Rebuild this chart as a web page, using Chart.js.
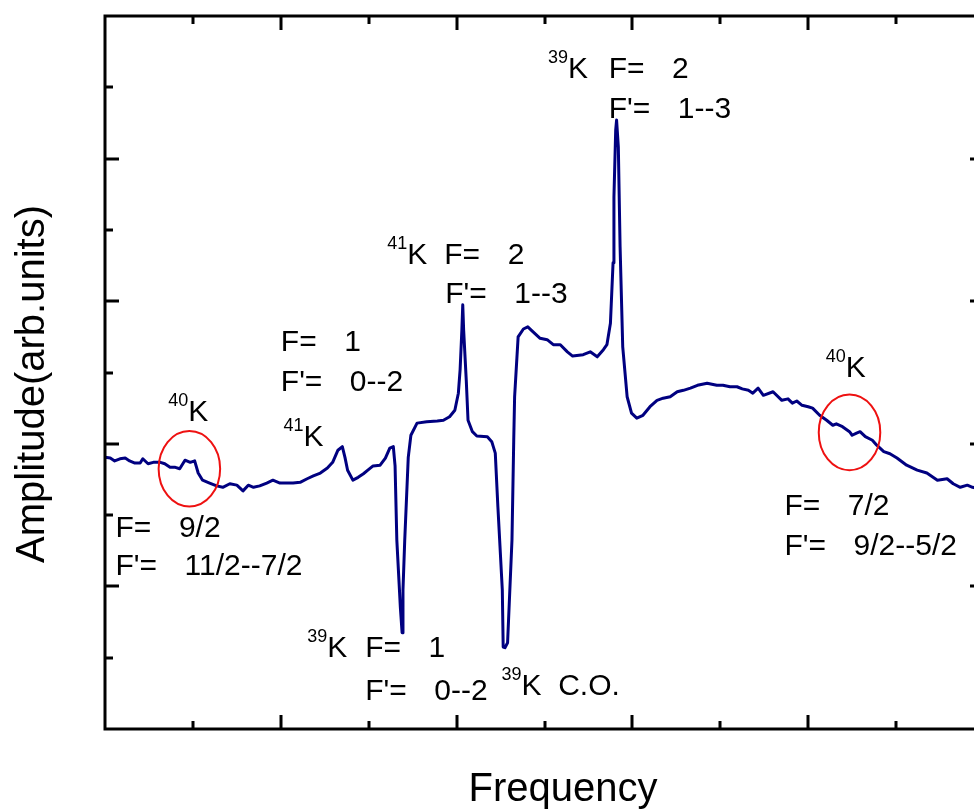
<!DOCTYPE html>
<html>
<head>
<meta charset="utf-8">
<title>Potassium saturated absorption spectrum</title>
<script src="https://cdn.jsdelivr.net/npm/chart.js@4.4.1/dist/chart.umd.min.js"></script>
<style>
  html, body { margin: 0; padding: 0; background: #ffffff; overflow: hidden; }
  #wrap { width: 1000px; height: 811px; }
  canvas { display: block; }
</style>
</head>
<body>
<div id="wrap"><canvas id="spectrum" width="1000" height="811"></canvas></div>
<script>
// Scan frequency (arbitrary units, one tick per unit)
const freq = [
  0.00, 0.06, 0.11, 0.17, 0.23, 0.28, 0.34, 0.40, 0.43, 0.49, 0.55, 0.63, 0.68, 0.74, 0.80, 0.85, 0.91, 0.97, 1.02, 1.06,
  1.11, 1.19, 1.27, 1.34, 1.42, 1.50, 1.57, 1.63, 1.69, 1.76, 1.84, 1.91, 1.99, 2.07, 2.14, 2.22, 2.30, 2.37, 2.45, 2.53,
  2.59, 2.65, 2.70, 2.73, 2.76, 2.82, 2.88, 2.94, 2.99, 3.05, 3.13, 3.19, 3.24, 3.28, 3.30, 3.32, 3.36, 3.38, 3.39, 3.41,
  3.45, 3.48, 3.55, 3.66, 3.78, 3.85, 3.92, 3.98, 4.02, 4.04, 4.06, 4.07, 4.08, 4.11, 4.13, 4.18, 4.23, 4.35, 4.40, 4.44,
  4.47, 4.52, 4.53, 4.55, 4.58, 4.63, 4.65, 4.66, 4.70, 4.76, 4.81, 4.87, 4.95, 5.03, 5.10, 5.18, 5.26, 5.32, 5.44, 5.52,
  5.60, 5.67, 5.71, 5.75, 5.78, 5.79, 5.81, 5.82, 5.84, 5.86, 5.89, 5.94, 5.99, 6.05, 6.12, 6.20, 6.28, 6.35, 6.43, 6.51,
  6.58, 6.66, 6.74, 6.85, 6.96, 7.03, 7.11, 7.19, 7.25, 7.32, 7.37, 7.43, 7.49, 7.60, 7.70, 7.77, 7.82, 7.87, 7.93, 8.00,
  8.05, 8.13, 8.21, 8.28, 8.32, 8.39, 8.47, 8.50, 8.55, 8.59, 8.65, 8.73, 8.78, 8.86, 8.93, 9.01, 9.12, 9.24, 9.35, 9.47,
  9.58, 9.65, 9.73, 9.81, 9.87, 10.00
];

// Probe amplitude (arbitrary units)
const amplitude = [
  3.81, 3.80, 3.76, 3.79, 3.80, 3.76, 3.73, 3.73, 3.79, 3.72, 3.74, 3.74, 3.72, 3.67, 3.67, 3.65, 3.77, 3.74, 3.76, 3.59,
  3.49, 3.45, 3.41, 3.39, 3.44, 3.42, 3.34, 3.42, 3.39, 3.41, 3.45, 3.49, 3.45, 3.45, 3.45, 3.46, 3.51, 3.55, 3.59, 3.66,
  3.74, 3.91, 3.96, 3.81, 3.63, 3.49, 3.53, 3.58, 3.63, 3.69, 3.70, 3.80, 3.94, 3.96, 3.69, 2.65, 1.71, 1.35, 1.95, 2.65,
  3.81, 4.12, 4.29, 4.31, 4.32, 4.33, 4.38, 4.47, 4.71, 5.04, 5.60, 5.95, 5.60, 4.89, 4.33, 4.17, 4.11, 4.10, 4.03, 3.87,
  3.11, 1.95, 1.15, 1.14, 1.21, 2.65, 4.05, 4.66, 5.50, 5.61, 5.64, 5.57, 5.48, 5.46, 5.39, 5.39, 5.29, 5.23, 5.25, 5.29,
  5.22, 5.32, 5.39, 5.69, 6.54, 7.46, 8.40, 8.54, 8.16, 6.76, 5.36, 4.66, 4.43, 4.36, 4.40, 4.52, 4.61, 4.64, 4.66, 4.73,
  4.75, 4.78, 4.82, 4.85, 4.82, 4.82, 4.80, 4.80, 4.77, 4.75, 4.71, 4.78, 4.68, 4.73, 4.61, 4.63, 4.57, 4.60, 4.54, 4.52,
  4.50, 4.40, 4.33, 4.26, 4.28, 4.24, 4.17, 4.12, 4.15, 4.17, 4.10, 4.05, 3.98, 3.89, 3.86, 3.80, 3.70, 3.63, 3.59, 3.49,
  3.51, 3.44, 3.39, 3.42, 3.39, 3.35
];

// Tick positions on both axes (even = long tick, odd = short tick)
const xTicks = [1, 2, 3, 4, 5, 6, 7, 8, 9];
const yTicks = [1, 2, 3, 4, 5, 6, 7, 8, 9];

// Isotope markers: mass number, position (start of superscript, K baseline)
const isotopeMass = ['40', '41', '41', '39', '39', '39', '40'];
const isotopeX    = [0.72, 2.03, 3.21, 5.04, 2.30, 4.51, 8.20];
const isotopeY    = [4.32, 3.97, 6.52, 9.13, 1.01, 0.48, 4.94];
const isotopeTail = ['', '', '', '', '', '  C.O.', ''];

// Hyperfine quantum-number lines
const qnLabel = ['F=', "F'=", 'F=', "F'=", 'F=', "F'=", 'F=', "F'=", 'F=', "F'=", 'F=', "F'="];
const qnValue = ['1', '0--2', '2', '1--3', '2', '1--3', '1', '0--2', '9/2', '11/2--7/2', '7/2', '9/2--5/2'];
const qnX     = [2.00, 2.00, 3.86, 3.87, 5.73, 5.73, 2.96, 2.96, 0.12, 0.12, 7.73, 7.73];
const qnY     = [5.30, 4.74, 6.52, 5.97, 9.13, 8.57, 1.01, 0.41, 2.69, 2.16, 3.00, 2.44];

// Circled 40K features: centre and half-axes in data units
const ringX  = [0.96, 8.47];
const ringY  = [3.65, 4.16];
const ringRX = [0.35, 0.35];
const ringRY = [0.53, 0.53];

const FONT = '"Liberation Sans", Arial, Helvetica, sans-serif';

const decorations = {
  id: 'decorations',
  afterDraw(chart) {
    const ctx = chart.ctx;
    const xs = chart.scales.x, ys = chart.scales.y;
    const a = chart.chartArea;
    ctx.save();

    // frame
    ctx.strokeStyle = '#000000';
    ctx.lineWidth = 3;
    ctx.lineCap = 'square';
    ctx.strokeRect(a.left, a.top, a.right - a.left, a.bottom - a.top);

    // inward ticks
    ctx.lineWidth = 3;
    ctx.lineCap = 'butt';
    xTicks.forEach(v => {
      const len = v % 2 === 0 ? 14 : 8;
      const px = Math.round(xs.getPixelForValue(v));
      ctx.beginPath();
      ctx.moveTo(px, a.bottom); ctx.lineTo(px, a.bottom - len);
      ctx.moveTo(px, a.top); ctx.lineTo(px, a.top + len);
      ctx.stroke();
    });
    yTicks.forEach(v => {
      const len = v % 2 === 0 ? 14 : 8;
      const py = Math.round(ys.getPixelForValue(v));
      ctx.beginPath();
      ctx.moveTo(a.left, py); ctx.lineTo(a.left + len, py);
      ctx.moveTo(a.right, py); ctx.lineTo(a.right - len, py);
      ctx.stroke();
    });

    // red rings
    ctx.strokeStyle = '#ee1111';
    ctx.lineWidth = 2;
    ringX.forEach((cx, i) => {
      const px = xs.getPixelForValue(cx), py = ys.getPixelForValue(ringY[i]);
      const rx = Math.abs(xs.getPixelForValue(cx + ringRX[i]) - px);
      const ry = Math.abs(ys.getPixelForValue(ringY[i] + ringRY[i]) - py);
      ctx.beginPath();
      ctx.ellipse(px, py, rx, ry, 0, 0, Math.PI * 2);
      ctx.stroke();
    });

    // isotope labels
    ctx.fillStyle = '#000000';
    ctx.textBaseline = 'alphabetic';
    ctx.textAlign = 'left';
    isotopeMass.forEach((m, i) => {
      const px = xs.getPixelForValue(isotopeX[i]);
      const py = ys.getPixelForValue(isotopeY[i]);
      ctx.font = '18px ' + FONT;
      ctx.fillText(m, px, py - 15);
      const w = ctx.measureText(m).width;
      ctx.font = '30px ' + FONT;
      ctx.fillText('K' + isotopeTail[i], px + w, py);
    });

    // quantum-number labels
    ctx.font = '30px ' + FONT;
    qnLabel.forEach((lab, i) => {
      const px = xs.getPixelForValue(qnX[i]);
      const py = ys.getPixelForValue(qnY[i]);
      ctx.fillText(lab, px, py);
      const w = ctx.measureText(lab).width;
      ctx.fillText(qnValue[i], px + w + 27.5, py);
    });

    // axis titles
    ctx.font = '40px ' + FONT;
    ctx.textAlign = 'center';
    ctx.fillText('Frequency', 563, 801);
    ctx.save();
    ctx.translate(44, 384);
    ctx.rotate(-Math.PI / 2);
    ctx.fillText('Amplitude(arb.units)', 0, 0);
    ctx.restore();

    ctx.restore();
  }
};

new Chart(document.getElementById('spectrum'), {
  type: 'line',
  data: {
    datasets: [{
      data: freq.map((f, i) => ({ x: f, y: amplitude[i] })),
      borderColor: '#000080',
      borderWidth: 3,
      pointRadius: 0,
      tension: 0,
      fill: false,
      borderJoinStyle: 'round',
      borderCapStyle: 'round'
    }]
  },
  options: {
    responsive: false,
    animation: false,
    devicePixelRatio: 1,
    layout: { padding: { left: 105, top: 16, right: 16, bottom: 82 } },
    scales: {
      x: { type: 'linear', min: 0, max: 10, display: false },
      y: { type: 'linear', min: 0, max: 10, display: false }
    },
    plugins: {
      legend: { display: false },
      tooltip: { enabled: false }
    }
  },
  plugins: [decorations]
});
</script>
</body>
</html>
